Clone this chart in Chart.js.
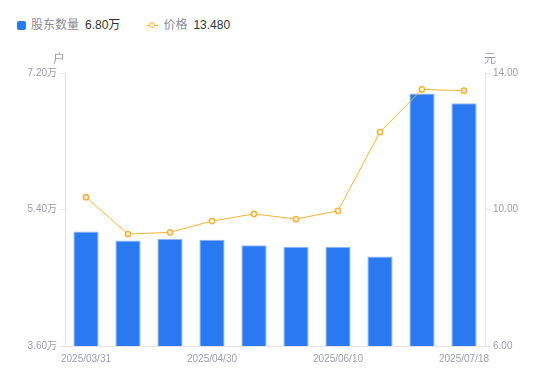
<!DOCTYPE html>
<html><head><meta charset="utf-8">
<script src="https://cdn.jsdelivr.net/npm/chart.js@4/dist/chart.umd.min.js"></script>
<style>
html,body{margin:0;padding:0;background:#fff;}
#wrap{position:relative;width:550px;height:381px;font-family:"Liberation Sans","Noto Sans CJK SC",sans-serif;}
#legend{position:absolute;left:17px;top:17px;font-size:12px;line-height:16px;display:flex;align-items:center;white-space:nowrap;}
.sq{display:inline-block;width:9px;height:9px;border-radius:2px;background:#2979f2;margin-right:5px;}
.ln{display:inline-block;position:relative;width:9px;height:9px;margin-right:6px;}
.ln:before{content:"";position:absolute;left:-1px;right:-1px;top:4px;height:1px;background:#f9b233;}
.ln:after{content:"";position:absolute;left:1px;top:1px;width:4px;height:4px;border:1.5px solid #f9b233;border-radius:50%;background:#fff;}
.lab{color:#8a8a96;margin-right:6px;}
.val{color:#333;}
canvas{position:absolute;left:0;top:0;}
</style></head>
<body><div id="wrap">
<div id="legend"><span class="sq"></span><span class="lab">股东数量</span><span class="val" style="margin-right:28px">6.80万</span><span class="ln"></span><span class="lab">价格</span><span class="val">13.480</span></div>
<canvas id="c" width="550" height="381"></canvas>
</div>
<script>
const categories = ["2025/03/31","2025/04/10","2025/04/18","2025/04/30","2025/05/09","2025/05/20","2025/06/10","2025/06/20","2025/06/30","2025/07/18"];
const holders = [5.11, 4.99, 5.01, 5.00, 4.93, 4.91, 4.91, 4.78, 6.93, 6.80];
const prices = [10.36, 9.28, 9.33, 9.66, 9.87, 9.72, 9.96, 12.27, 13.52, 13.48];
const leftTicks = [3.6, 5.4, 7.2];
const rightTicks = [6, 10, 14];
const shownLabelIdx = [0, 3, 6, 9];

const tickColor = '#9a9cae';
const axisColor = '#e3e3e6';
const font = {family: '"Liberation Sans","Noto Sans CJK SC",sans-serif', size: 10};

const unitTitles = {
  id: 'unitTitles',
  afterDraw(chart) {
    const ctx = chart.ctx;
    ctx.save();
    ctx.font = '12px "Noto Sans CJK SC","Liberation Sans",sans-serif';
    ctx.fillStyle = tickColor;
    ctx.textBaseline = 'middle';
    ctx.textAlign = 'center';
    ctx.fillText('户', chart.scales.y.right - 6, chart.chartArea.top - 15);
    ctx.fillText('元', chart.scales.y1.left + 5, chart.chartArea.top - 15);
    ctx.restore();
  }
};

new Chart(document.getElementById('c'), {
  data: {
    labels: categories,
    datasets: [
      {type: 'line', label: '价格', data: prices, yAxisID: 'y1', borderColor: '#f9b233', borderWidth: 1,
       pointRadius: 2.6, pointBorderWidth: 1.6, pointBackgroundColor: '#fff', pointBorderColor: '#f9b233',
       tension: 0, order: 0},
      {type: 'bar', label: '股东数量', data: holders, yAxisID: 'y', backgroundColor: '#2979f2',
       borderColor: '#8db8f7', borderWidth: {top: 1, left: 1, right: 1, bottom: 0}, borderSkipped: 'bottom',
       barPercentage: 0.6, categoryPercentage: 1, order: 1}
    ]
  },
  options: {
    responsive: false, animation: false,
    layout: {padding: {top: 73, left: 0, right: 0, bottom: 0}},
    plugins: {legend: {display: false}, tooltip: {enabled: false}},
    scales: {
      x: {
        grid: {display: false, drawTicks: false},
        border: {color: axisColor},
        ticks: {autoSkip: false, maxRotation: 0, color: tickColor, font: font, padding: 7,
          callback: function(v, i) { return shownLabelIdx.includes(i) ? categories[i] : ''; }},
        afterFit: s => { s.height = 35; }
      },
      y: {
        position: 'left', min: leftTicks[0], max: leftTicks[2],
        afterBuildTicks: s => { s.ticks = leftTicks.map(v => ({value: v})); },
        grid: {drawOnChartArea: false, tickLength: 5, color: axisColor},
        border: {color: axisColor},
        ticks: {color: tickColor, font: font, padding: 3, callback: v => v.toFixed(2) + '万'},
        afterFit: s => { s.width = 65; }
      },
      y1: {
        position: 'right', min: rightTicks[0], max: rightTicks[2],
        afterBuildTicks: s => { s.ticks = rightTicks.map(v => ({value: v})); },
        grid: {drawOnChartArea: false, tickLength: 5, color: axisColor},
        border: {color: axisColor},
        ticks: {color: tickColor, font: font, padding: 3, callback: v => v.toFixed(2)},
        afterFit: s => { s.width = 65; }
      }
    }
  },
  plugins: [unitTitles]
});
</script>
</body></html>
